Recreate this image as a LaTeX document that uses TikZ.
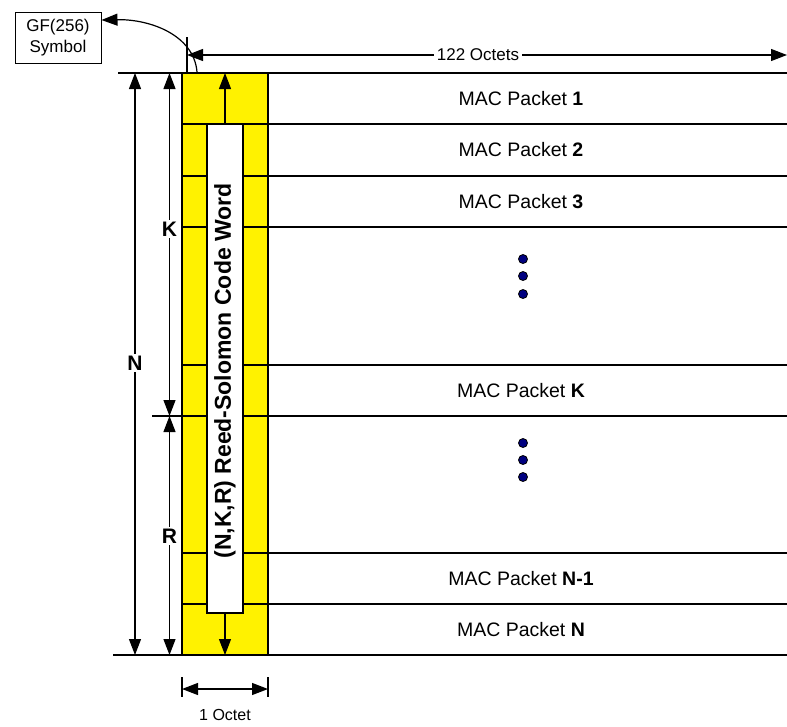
\documentclass[tikz,border=0pt]{standalone}
\usepackage{fontspec}
\setmainfont{Liberation Sans}
\usetikzlibrary{arrows.meta}

\definecolor{dotblue}{RGB}{0,0,128}
\tikzset{
  tip/.tip={Triangle[length=16pt,width=12pt]},
  dim/.style={tip-tip, line width=1.2pt},
  thin line/.style={line width=1.3pt},
  thick line/.style={line width=2.3pt},
  label/.style={fill=white, inner sep=2pt, font=\fontsize{21}{24}\selectfont\bfseries},
  packet/.style={font=\fontsize{19.5}{22}\selectfont},
  dot/.style={circle, draw=black, fill=dotblue, line width=0.8pt, minimum size=9pt, inner sep=0pt},
}

\begin{document}
\begin{tikzpicture}[x=1pt, y=-1pt]
  \useasboundingbox (0,0) rectangle (787,726);

  % the code word column
  \fill [yellow] (182,73) rectangle (268,655);
  \foreach \y in {124,176,227,365,416,553,604}
    \draw [thin line] (182,\y) -- (787,\y);
  \draw [thick line] (118,73) -- (787,73);
  \draw [thick line] (113,655) -- (787,655);
  \draw [line width=2pt] (182,73) -- (182,655);
  \draw [thin line] (268,73) -- (268,655);
  \node [draw, fill=white, thin line, minimum width=36pt, minimum height=489pt, inner sep=0pt] (word) at (225,368.5) {};
  \node [rotate=90, font=\fontsize{23}{26}\selectfont\bfseries] (wordtext) at (225,371) {(N,K,R) Reed-Solomon Code Word};
  \coordinate (wtop) at (225,73);
  \coordinate (wbot) at (225,655);
  \draw [-tip, line width=1.2pt] (word.north) -- (wtop);
  \draw [-tip, line width=1.2pt] (word.south) -- (wbot);

  % packets
  \foreach \y/\n in {98.5/1, 150/2, 201.5/3, 390.5/K, 578.5/N-1, 629.5/N}
    \node [packet] (mac\n) at (521,\y) {MAC Packet \textbf{\n}};
  \foreach \y in {259,276,294,443,460,477}
    \node [dot] (dot\y) at (523,\y) {};

  % N, K and R
  \coordinate (ntop) at (135,73);
  \coordinate (nbot) at (135,655);
  \coordinate (ktop) at (169.5,73);
  \coordinate (kmid) at (169.5,416);
  \coordinate (kbot) at (169.5,655);
  \draw [dim] (ntop) -- (nbot);
  \draw [dim] (ktop) -- (kmid);
  \draw [dim] (kmid) -- (kbot);
  \draw [thin line] (152,416) -- (182,416);
  \node [label] (nlab) at (135,363) {N};
  \node [label] (klab) at (169.5,229) {K};
  \node [label] (rlab) at (169.5,536) {R};

  % 122 octets
  \draw [thin line] (187,37) -- (187,73);
  \coordinate (oleft) at (187,55);
  \coordinate (oright) at (787,55);
  \draw [dim] (oleft) -- (oright);
  \node [fill=white, inner sep=3pt, font=\fontsize{17}{20}\selectfont] (octets) at (478,55) {122 Octets};

  % GF(256) symbol
  \node [draw, line width=1pt, minimum width=86pt, minimum height=51pt, inner sep=0pt, align=center, font=\fontsize{17}{21}\selectfont] (gf) at (58,37.5) {GF(256)\\Symbol};
  \coordinate (sym) at (197,72);
  \draw [-tip, line width=1.2pt] (sym) .. controls (194,35) and (150,19) .. ([yshift=17.5pt]gf.east);

  % 1 octet
  \draw [thin line] (182,677) -- (182,697);
  \draw [thin line] (268,677) -- (268,697);
  \coordinate (bleft) at (182,689);
  \coordinate (bright) at (268,689);
  \draw [dim] (bleft) -- (bright);
  \node [font=\fontsize{16}{19}\selectfont] (one) at (225,715) {1 Octet};
\end{tikzpicture}
\end{document}
